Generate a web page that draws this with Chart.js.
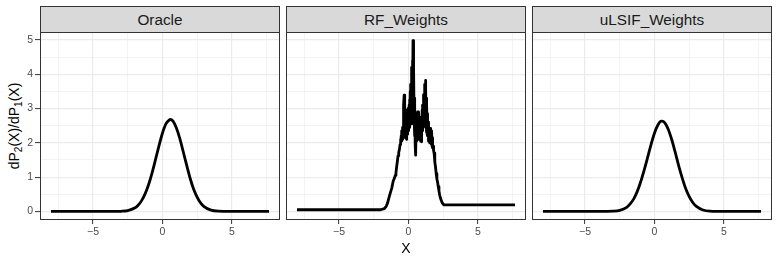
<!DOCTYPE html>
<html><head><meta charset="utf-8">
<script src="https://cdn.jsdelivr.net/npm/chart.js@4"></script>
<style>
body{margin:0;background:#fff;width:779px;height:260px;position:relative;overflow:hidden;font-family:'Liberation Sans',Arial,sans-serif}
canvas{position:absolute;top:32px}
.strip{position:absolute;top:6px;height:27px;box-sizing:border-box;background:#D9D9D9;border:1px solid #333;color:#1A1A1A;font-size:15.3px;text-align:center;line-height:25px}
#ytitle{position:absolute;left:15px;top:126px;transform:translate(-50%,-50%) rotate(-90deg);white-space:nowrap;font-size:14px;color:#000}
#ytitle sub{font-size:10px;vertical-align:-3px}
</style></head><body>
<div class="strip" id="s0" style="left:40px;width:240px"></div>
<div class="strip" id="s1" style="left:286px;width:240px"></div>
<div class="strip" id="s2" style="left:532px;width:240px"></div>
<div id="ytitle">dP<sub>2</sub>(X)/dP<sub>1</sub>(X)</div>
<canvas id="c0" width="280" height="228" style="left:0px"></canvas>
<canvas id="c1" width="240" height="228" style="left:286px"></canvas>
<canvas id="c2" width="240" height="228" style="left:532px"></canvas>
<script>
const panelTitles = ['Oracle', 'RF_Weights', 'uLSIF_Weights'];
const xAxisTitle = 'X';

const oracleX = [-8.03, -5, -4, -3.5, -3, -2.5, -2, -1.75, -1.5, -1.25, -1, -0.75, -0.5, -0.25, 0, 0.25, 0.5, 0.57, 0.75, 1, 1.25, 1.5, 1.75, 2, 2.25, 2.5, 2.75, 3, 3.5, 4, 5, 7.68];
const oracleY = [0, 0, 0, 0.001, 0.005, 0.024, 0.099, 0.18, 0.315, 0.512, 0.78, 1.12, 1.51, 1.91, 2.28, 2.55, 2.67, 2.68, 2.64, 2.44, 2.13, 1.74, 1.34, 0.96, 0.65, 0.42, 0.25, 0.14, 0.037, 0.008, 0.001, 0];

const ulsifX = [-8.03, -5, -4, -3.5, -3, -2.5, -2, -1.75, -1.5, -1.25, -1, -0.75, -0.5, -0.25, 0, 0.25, 0.5, 0.55, 0.75, 1, 1.25, 1.5, 1.75, 2, 2.25, 2.5, 2.75, 3, 3.5, 4, 5, 7.68];
const ulsifY = [0, 0, 0, 0.001, 0.007, 0.033, 0.12, 0.22, 0.36, 0.57, 0.85, 1.19, 1.56, 1.94, 2.28, 2.52, 2.63, 2.63, 2.58, 2.39, 2.09, 1.72, 1.33, 0.98, 0.67, 0.44, 0.27, 0.155, 0.043, 0.01, 0.001, 0];

const rfX = [-8.03, -4.0, -2.0, -1.75, -1.6, -1.5, -1.4, -1.3, -1.2, -1.1, -1.0, -0.95, -0.9, -0.85, -0.8, -0.75, -0.7, -0.65,
  -0.6, -0.57, -0.55, -0.52, -0.5, -0.47,
  -0.45, -0.43, -0.41, -0.39, -0.37, -0.35, -0.33, -0.31, -0.29, -0.27, -0.25, -0.23, -0.21, -0.19, -0.17, -0.15, -0.13, -0.11, -0.09, -0.07, -0.05, -0.03, -0.01,
  0.01, 0.03, 0.05, 0.07, 0.09, 0.11, 0.13, 0.15, 0.17, 0.19, 0.21, 0.23, 0.25, 0.27, 0.29, 0.31, 0.33, 0.35, 0.37, 0.39, 0.41, 0.43, 0.45, 0.47, 0.49,
  0.51, 0.53, 0.55, 0.57, 0.59, 0.61, 0.63, 0.65, 0.67, 0.69, 0.71, 0.73, 0.75, 0.77, 0.79, 0.81, 0.83, 0.85, 0.87, 0.89, 0.91, 0.93, 0.95, 0.97, 0.99,
  1.01, 1.03, 1.05, 1.07, 1.09, 1.11, 1.13, 1.15, 1.17, 1.19, 1.21, 1.23, 1.25, 1.27, 1.29, 1.31, 1.33, 1.35, 1.37, 1.39, 1.41, 1.43, 1.45, 1.47, 1.49,
  1.51, 1.53, 1.55, 1.57, 1.59, 1.61, 1.63, 1.65, 1.67, 1.69, 1.71, 1.73, 1.75, 1.78, 1.81,
  1.85, 1.90, 1.95, 2.00, 2.05, 2.10, 2.15, 2.20, 2.25, 2.30, 2.38, 2.45, 2.55, 3.0, 7.68];
const rfY = [0.05, 0.05, 0.05, 0.08, 0.15, 0.25, 0.40, 0.55, 0.68, 0.88, 0.98, 1.05, 1.12, 1.30, 1.45, 1.62, 1.72, 1.80,
  1.95, 2.10, 1.98, 2.20, 2.05, 2.35,
  2.25, 2.10, 2.45, 2.15, 2.60, 2.20, 3.10, 3.39, 2.40, 3.05, 2.20, 2.85, 2.35, 2.95, 2.15, 2.70, 2.10, 2.80, 2.30, 2.60, 2.25, 3.00, 2.40,
  2.90, 2.35, 3.10, 2.50, 3.25, 2.45, 3.50, 2.60, 3.70, 2.55, 3.90, 2.70, 4.20, 2.90, 4.40, 3.20, 4.98, 4.70, 3.60, 4.20, 2.70, 3.30, 2.20, 3.00, 1.90,
  2.60, 1.64, 2.50, 2.05, 2.85, 2.20, 2.70, 2.10, 2.90, 2.30, 2.80, 2.15, 2.90, 2.40, 2.75, 2.10, 2.65, 2.20, 2.55, 2.05, 2.60, 2.03, 2.70, 2.30, 2.95,
  2.35, 3.10, 2.45, 3.25, 2.55, 3.40, 2.70, 3.55, 2.85, 3.70, 3.10, 3.82, 3.60, 2.60, 3.30, 2.30, 3.10, 2.25, 2.85, 2.20, 2.60, 2.10, 2.45, 2.05, 2.42,
  2.10, 2.40, 2.00, 2.38, 2.05, 2.42, 1.98, 2.35, 1.95, 2.30, 1.90, 2.15, 1.85, 1.90, 1.78,
  1.70, 1.45, 1.30, 1.10, 0.95, 0.85, 0.72, 0.60, 0.48, 0.40, 0.30, 0.24, 0.19, 0.19, 0.19];

const xGridValues = [-7.5, -5, -2.5, 0, 2.5, 5, 7.5];
const xTickLabels = [-5, 0, 5];
const yGridValues = [0, 0.5, 1, 1.5, 2, 2.5, 3, 3.5, 4, 4.5, 5];
const yTickLabels = [0, 1, 2, 3, 4, 5];

const panels = [
  {xs: oracleX, ys: oracleY, smooth: true},
  {xs: rfX, ys: rfY, smooth: false},
  {xs: ulsifX, ys: ulsifY, smooth: true}
];

panelTitles.forEach((t, i) => { document.getElementById('s' + i).textContent = t; });

const fmt = v => v < 0 ? '\u2212' + Math.abs(v) : String(v);
const FONT = "'Liberation Sans', Arial, sans-serif";

const borderPlugin = {
  id: 'panelBorder',
  afterDatasetsDraw(chart) {
    const {ctx, chartArea: a} = chart;
    ctx.save();
    ctx.strokeStyle = '#333333';
    ctx.lineWidth = 1;
    ctx.strokeRect(a.left + 0.5, a.top + 0.5, a.right - a.left - 1, a.bottom - a.top - 1);
    ctx.restore();
  }
};

const noPad = s => { s.paddingTop = 0; s.paddingBottom = 0; s.paddingLeft = 0; s.paddingRight = 0; };

panels.forEach((p, i) => {
  const showY = i === 0;
  const showXTitle = i === 1;
  new Chart(document.getElementById('c' + i), {
    type: 'line',
    data: {
      datasets: [{
        data: p.xs.map((x, k) => ({x: x, y: p.ys[k]})),
        borderColor: '#000000',
        borderWidth: 2.8,
        pointRadius: 0,
        fill: false,
        cubicInterpolationMode: p.smooth ? 'monotone' : 'default',
        tension: 0,
        borderJoinStyle: 'round'
      }]
    },
    options: {
      responsive: false,
      animation: false,
      devicePixelRatio: 1,
      layout: {padding: 0},
      plugins: {legend: {display: false}, tooltip: {enabled: false}},
      scales: {
        x: {
          type: 'linear', min: -8.82, max: 8.47,
          afterBuildTicks: s => { s.ticks = xGridValues.map(v => ({value: v})); },
          afterFit: s => { s.height = 40; noPad(s); },
          border: {display: false},
          grid: {
            color: '#EBEBEB',
            lineWidth: c => xTickLabels.includes(c.tick && c.tick.value) ? 1.2 : 0.6,
            drawTicks: true, tickLength: 4, tickWidth: 1,
            tickColor: c => xTickLabels.includes(c.tick && c.tick.value) ? '#333333' : 'rgba(0,0,0,0)'
          },
          ticks: {
            autoSkip: false, maxRotation: 0, padding: 2, color: '#4D4D4D',
            font: {family: FONT, size: 10.5},
            callback: v => xTickLabels.includes(v) ? fmt(v) : ''
          },
          title: {display: showXTitle, text: xAxisTitle, color: '#000', font: {family: FONT, size: 14}, padding: {top: 0, bottom: 2}}
        },
        y: {
          type: 'linear', min: -0.249, max: 5.229,
          afterBuildTicks: s => { s.ticks = yGridValues.map(v => ({value: v})); },
          afterFit: s => { s.width = showY ? 40 : 0; noPad(s); },
          border: {display: false},
          grid: {
            color: '#EBEBEB',
            lineWidth: c => yTickLabels.includes(c.tick && c.tick.value) ? 1.2 : 0.6,
            drawTicks: showY, tickLength: 5, tickWidth: 1,
            tickColor: c => yTickLabels.includes(c.tick && c.tick.value) ? '#333333' : 'rgba(0,0,0,0)'
          },
          ticks: {
            display: showY, autoSkip: false, padding: 2, color: '#4D4D4D',
            font: {family: FONT, size: 10.5},
            callback: v => yTickLabels.includes(v) ? fmt(v) : ''
          }
        }
      }
    },
    plugins: [borderPlugin]
  });
});
</script>
</body></html>
